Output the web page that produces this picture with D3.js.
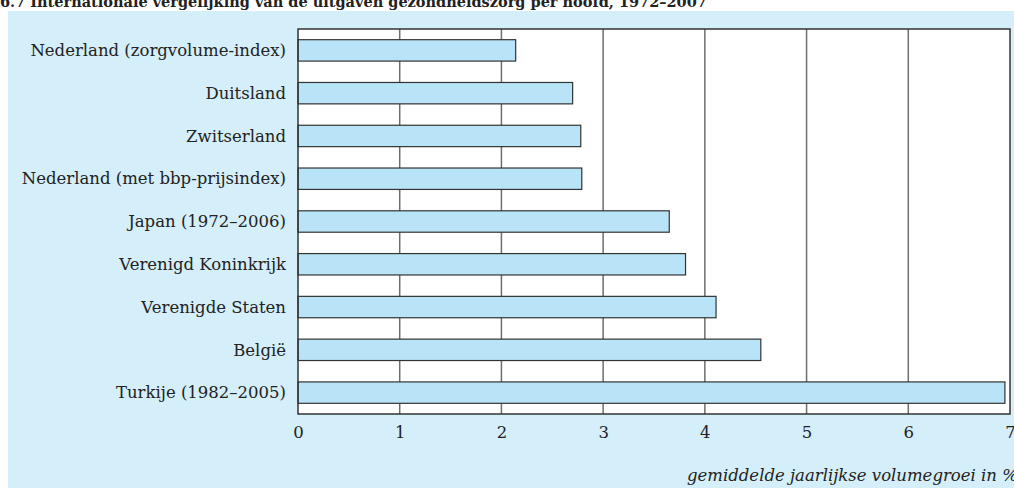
<!DOCTYPE html>
<html>
<head>
<meta charset="utf-8">
<script src="https://cdn.jsdelivr.net/npm/d3@7"></script>
<style>
  html, body { margin: 0; padding: 0; background: #fff; }
  svg { display: block; }
</style>
</head>
<body>
<div id="chart"></div>
<script>
// Data
const countries = [
    "Nederland (zorgvolume-index)",
    "Duitsland",
    "Zwitserland",
    "Nederland (met bbp-prijsindex)",
    "Japan (1972–2006)",
    "Verenigd Koninkrijk",
    "Verenigde Staten",
    "België",
    "Turkije (1982–2005)"
];
const growth = [2.14, 2.70, 2.78, 2.79, 3.65, 3.81, 4.11, 4.55, 6.95];
const xTicks = [0, 1, 2, 3, 4, 5, 6, 7];

const titleText = "6.7  Internationale vergelijking van de uitgaven gezondheidszorg per hoofd, 1972–2007";
const axisTitle = "gemiddelde jaarlijkse volumegroei in %";

const W = 1014, H = 488;
const margin = { top: 29, right: 4, bottom: 74, left: 298 };
const width = W - margin.left - margin.right;
const height = H - margin.top - margin.bottom;

const serif = "'DejaVu Serif', 'Liberation Serif', serif";

const svg = d3.select("#chart")
    .append("svg")
    .attr("width", W)
    .attr("height", H);

// light blue panel behind the chart
svg.append("rect")
    .attr("x", 8)
    .attr("y", 11)
    .attr("width", W)
    .attr("height", H)
    .attr("fill", "#d4eefa");

// title, cut off at the top like the original
svg.append("text")
    .attr("x", 0)
    .attr("y", 7)
    .style("font-family", serif)
    .style("font-size", "14.5px")
    .style("font-weight", "bold")
    .attr("fill", "#222")
    .text(titleText);

const g = svg.append("g")
    .attr("transform", `translate(${margin.left},${margin.top})`);

const x = d3.scaleLinear()
    .domain([0, 7])
    .range([0, width]);

const y = d3.scaleBand()
    .domain(countries)
    .range([0, height])
    .paddingInner(0.5)
    .paddingOuter(0.25);

// white plot area
g.append("rect")
    .attr("width", width)
    .attr("height", height)
    .attr("fill", "#fff");

// vertical grid lines
g.selectAll(".grid")
    .data(xTicks.slice(1, -1))
    .enter()
    .append("line")
    .attr("x1", d => x(d))
    .attr("x2", d => x(d))
    .attr("y1", 0)
    .attr("y2", height)
    .attr("stroke", "#6e6e6e")
    .attr("stroke-width", 1.5);

// bars
g.selectAll(".bar")
    .data(countries)
    .enter()
    .append("rect")
    .attr("x", x(0))
    .attr("y", d => y(d))
    .attr("width", (d, i) => x(growth[i]) - x(0))
    .attr("height", y.bandwidth())
    .attr("fill", "#b9e4f8")
    .attr("stroke", "#333")
    .attr("stroke-width", 1.2);

// frame
g.append("rect")
    .attr("width", width)
    .attr("height", height)
    .attr("fill", "none")
    .attr("stroke", "#333")
    .attr("stroke-width", 1.5);

// category labels
g.selectAll(".label")
    .data(countries)
    .enter()
    .append("text")
    .attr("x", -12)
    .attr("y", d => y(d) + y.bandwidth() / 2)
    .attr("dy", "0.35em")
    .attr("text-anchor", "end")
    .style("font-family", serif)
    .style("font-size", "16.5px")
    .attr("fill", "#222")
    .text(d => d);

// x axis tick labels
const xAxis = g.append("g")
    .attr("transform", `translate(0,${height})`)
    .call(d3.axisBottom(x).tickValues(xTicks).tickFormat(d3.format("d")).tickSize(0).tickPadding(12));
xAxis.select(".domain").remove();
xAxis.selectAll("text")
    .style("font-family", serif)
    .style("font-size", "16.5px")
    .attr("fill", "#222");

// axis title
svg.append("text")
    .attr("x", 687)
    .attr("y", 481)
    .style("font-family", serif)
    .style("font-size", "16.5px")
    .style("font-style", "italic")
    .attr("fill", "#222")
    .text(axisTitle);
</script>
</body>
</html>
